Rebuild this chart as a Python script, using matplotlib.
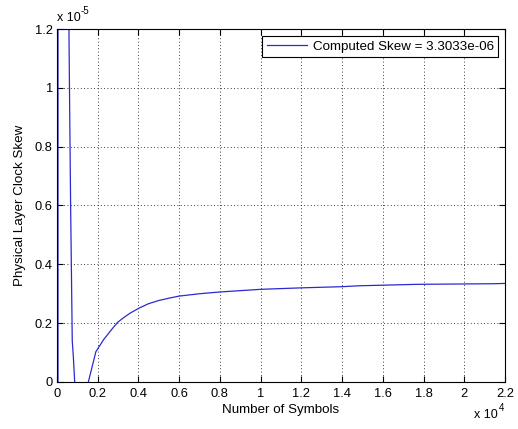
import matplotlib
matplotlib.use('Agg')
import matplotlib.pyplot as plt
from matplotlib.ticker import FuncFormatter, MultipleLocator

# skew estimate vs number of symbols
symbols = [0, 40, 60, 580, 620, 670, 750, 800, 870, 1000, 1400, 1540,
           1910, 2300, 2690, 2980, 3300, 3590, 4000, 4490, 5000, 5500, 6000,
           7000, 8000, 10000, 12000, 14000, 14800, 17700, 21400, 22000]
skew = [-1e-4, -4e-4, 4e-4, 1.25e-5, 0.95e-5, 0.6e-5, 0.14e-5, 0.09e-5, 0.0,
        -2e-6, -2e-6, 0.0,
        0.103e-5, 0.145e-5, 0.179e-5, 0.203e-5, 0.220e-5, 0.234e-5, 0.250e-5,
        0.266e-5, 0.277e-5, 0.285e-5, 0.292e-5, 0.300e-5, 0.306e-5, 0.315e-5,
        0.320e-5, 0.324e-5, 0.327e-5, 0.332e-5, 0.334e-5, 0.335e-5]
legend_label = 'Computed Skew = 3.3033e-06'

plt.rcParams['font.family'] = ['Liberation Sans', 'DejaVu Sans']
plt.rcParams['font.size'] = 9

fig = plt.figure(figsize=(5.18, 4.29), dpi=100)
ax = fig.add_axes([0.110, 0.1096, 0.865, 0.8228])

ax.plot(symbols, skew, color='#2a2ad2', lw=0.9, label=legend_label)

ax.set_xlim(0, 22000)
ax.set_ylim(0, 1.2e-5)
ax.xaxis.set_major_locator(MultipleLocator(2000))
ax.yaxis.set_major_locator(MultipleLocator(0.2e-5))
ax.xaxis.set_major_formatter(FuncFormatter(lambda v, p: '%g' % round(v / 1e4, 4)))
ax.yaxis.set_major_formatter(FuncFormatter(lambda v, p: '%g' % round(v / 1e-5, 4)))
ax.tick_params(direction='in', top=True, right=True, length=4, width=0.8,
               labelsize=9.3, colors='black', pad=3)
ax.tick_params(axis='x', pad=4)
ax.grid(True, color='black', linestyle=(0, (1, 3)), linewidth=0.6)
for s in ax.spines.values():
    s.set_linewidth(0.8)

ax.set_xlabel('Number of Symbols', fontsize=9.6, labelpad=3)
ax.set_ylabel('Physical Layer Clock Skew', fontsize=9.6, labelpad=6)

# MATLAB style exponent labels
fig.text(57 / 518, 1 - 21 / 429, 'x 10', fontsize=9, va='baseline', ha='left')
fig.text(81 / 518, 1 - 14 / 429, '-5', fontsize=7, va='baseline', ha='left')
fig.text(498 / 518, 1 - 418 / 429, 'x 10', fontsize=9, va='baseline', ha='right')
fig.text(499 / 518, 1 - 411 / 429, '4', fontsize=7, va='baseline', ha='left')

leg = ax.legend(loc='upper right', fontsize=9.6, fancybox=False, framealpha=1,
                edgecolor='black', borderaxespad=0.5, handlelength=3.0,
                borderpad=0.35, handletextpad=0.45)
leg.get_frame().set_linewidth(0.8)

fig.savefig('out.png', dpi=100)
